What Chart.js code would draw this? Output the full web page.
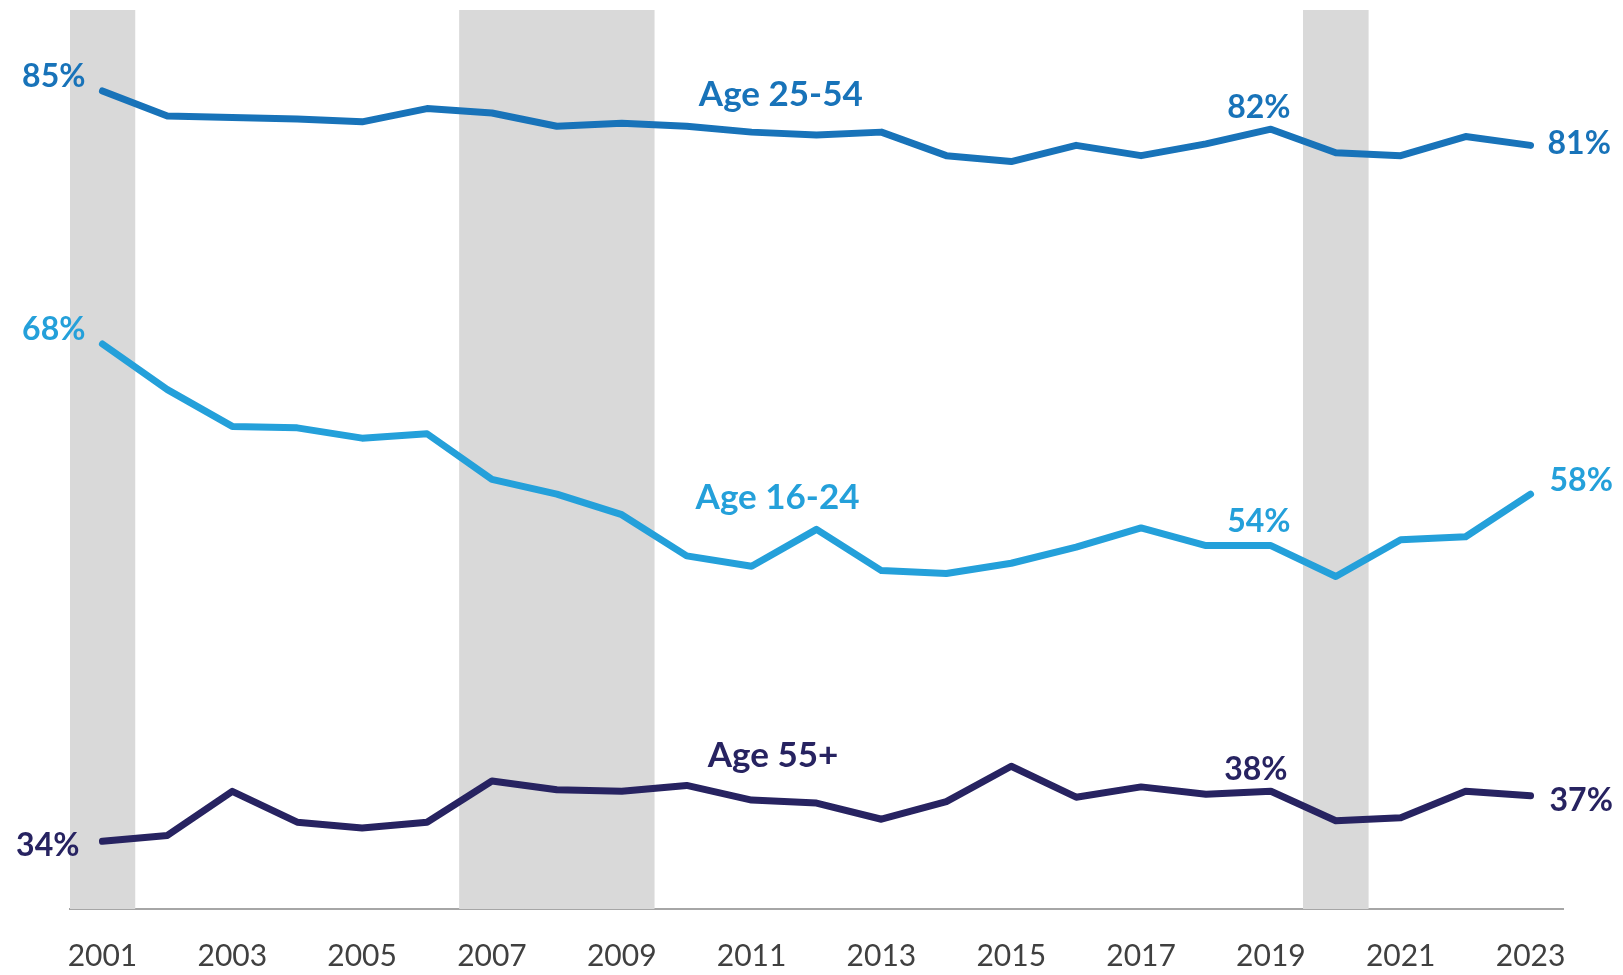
<!DOCTYPE html>
<html>
<head>
<meta charset="utf-8">
<script src="https://cdn.jsdelivr.net/npm/chart.js@4.4.1/dist/chart.umd.min.js"></script>
<style>
  html, body { margin: 0; padding: 0; background: #fff; }
  canvas { display: block; }
</style>
</head>
<body>
<canvas id="lfpr-chart" width="1623" height="975"></canvas>
<script>
const years = ['2001', '2002', '2003', '2004', '2005', '2006', '2007', '2008', '2009', '2010', '2011', '2012',
  '2013', '2014', '2015', '2016', '2017', '2018', '2019', '2020', '2021', '2022', '2023']

const age2554 = [85.0, 83.3, 83.2, 83.1, 82.9, 83.8, 83.5, 82.6, 82.8, 82.6, 82.2, 82.0,
  82.2, 80.6, 80.2, 81.3, 80.6, 81.4, 82.4, 80.8, 80.6, 81.9, 81.3]
const age1624 = [67.8, 64.7, 62.2, 62.1, 61.4, 61.7, 58.6, 57.6, 56.2, 53.4, 52.7, 55.2,
  52.4, 52.2, 52.9, 54.0, 55.3, 54.1, 54.1, 52.0, 54.5, 54.7, 57.6]
const age55 = [34.0, 34.4, 37.4, 35.3, 34.9, 35.3, 38.1, 37.5, 37.4, 37.8, 36.8, 36.6,
  35.5, 36.7, 39.1, 37.0, 37.7, 37.2, 37.4, 35.4, 35.6, 37.4, 37.1]

const recessionYears = ['2001', '2007', '2008', '2009', '2020']

const seriesNames = ['Age 25-54', 'Age 16-24', 'Age 55+']
const seriesColors = ['#1873b9', '#24a0da', '#272361']

// value callouts: which series, which year, what text
const callouts = [
  { series: 0, year: '2001', text: '85%' },
  { series: 0, year: '2019', text: '82%' },
  { series: 0, year: '2023', text: '81%' },
  { series: 1, year: '2001', text: '68%' },
  { series: 1, year: '2019', text: '54%' },
  { series: 1, year: '2023', text: '58%' },
  { series: 2, year: '2001', text: '34%' },
  { series: 2, year: '2019', text: '38%' },
  { series: 2, year: '2023', text: '37%' }
]

// where each callout sits relative to its point
const calloutOffsets = {
  '0-2001': { align: 'right', dx: -17, dy: -14 },
  '1-2001': { align: 'right', dx: -17, dy: -14 },
  '2-2001': { align: 'right', dx: -23, dy: 4 },
  '0-2019': { align: 'center', dx: -12, dy: -21 },
  '1-2019': { align: 'center', dx: -12, dy: -24 },
  '2-2019': { align: 'center', dx: -15, dy: -22 },
  '0-2023': { align: 'left', dx: 17, dy: -2 },
  '1-2023': { align: 'left', dx: 19, dy: -13 },
  '2-2023': { align: 'left', dx: 19, dy: 5 }
}
// series name labels: x position as a (fractional) category index, y offset from line
const nameOffsets = [
  { at: 10.45, dy: -37 },
  { at: 10.40, dy: -68 },
  { at: 10.33, dy: -44 }
]

const labelPlugin = {
  id: 'lineLabels',
  afterDatasetsDraw(chart) {
    const ctx = chart.ctx
    const xScale = chart.scales.x
    const yScale = chart.scales.y
    ctx.save()
    ctx.textBaseline = 'middle'

    ctx.font = 'bold 32px Lato'
    callouts.forEach(c => {
      const idx = years.indexOf(c.year)
      const pt = chart.getDatasetMeta(c.series + 1).data[idx]
      const off = calloutOffsets[c.series + '-' + c.year]
      ctx.fillStyle = seriesColors[c.series]
      ctx.textAlign = off.align
      ctx.fillText(c.text, pt.x + off.dx, pt.y + off.dy)
    })

    ctx.font = 'bold 35px Lato'
    ctx.textAlign = 'center'
    const allSeries = [age2554, age1624, age55]
    seriesNames.forEach((name, i) => {
      const n = nameOffsets[i]
      const x = xScale.getPixelForValue(n.at)
      const y = yScale.getPixelForValue(allSeries[i][Math.round(n.at)]) + n.dy
      ctx.fillStyle = seriesColors[i]
      ctx.fillText(name, x, y)
    })
    ctx.restore()
  }
}

const lineStyle = {
  type: 'line',
  yAxisID: 'y',
  borderWidth: 7,
  pointRadius: 0,
  pointHoverRadius: 0,
  tension: 0,
  borderJoinStyle: 'round',
  borderCapStyle: 'round',
  fill: false,
  order: 1
}

const chartData = {
  labels: years,
  datasets: [{
    type: 'bar',
    label: 'Recession',
    data: years.map(y => recessionYears.includes(y) ? 1 : null),
    backgroundColor: '#d9d9d9',
    borderWidth: 0,
    barPercentage: 1,
    categoryPercentage: 1,
    yAxisID: 'yBand',
    order: 10
  },
  Object.assign({ label: seriesNames[0], data: age2554, borderColor: seriesColors[0] }, lineStyle),
  Object.assign({ label: seriesNames[1], data: age1624, borderColor: seriesColors[1] }, lineStyle),
  Object.assign({ label: seriesNames[2], data: age55, borderColor: seriesColors[2] }, lineStyle)
  ]
}

const chartConfig = {
  data: chartData,
  options: {
    responsive: false,
    animation: false,
    layout: {
      padding: { left: 70, right: 60, top: 10, bottom: -28 }
    },
    plugins: {
      legend: { display: false },
      tooltip: { enabled: false }
    },
    scales: {
      x: {
        type: 'category',
        offset: true,
        grid: { display: false, drawTicks: false },
        border: { display: true, color: '#a6a6a6', width: 2 },
        ticks: {
          autoSkip: false,
          maxRotation: 0,
          padding: 29,
          color: '#404040',
          font: { family: 'Lato', size: 30 },
          callback: function (value, index) {
            return index % 2 === 0 ? years[index] : ''
          }
        }
      },
      y: {
        display: false,
        min: 29.4,
        max: 90.5
      },
      yBand: {
        display: false,
        min: 0,
        max: 1
      }
    }
  },
  plugins: [labelPlugin]
}

const chartEl = document.getElementById('lfpr-chart').getContext('2d')
const lfprChart = new Chart(chartEl, chartConfig)
</script>
</body>
</html>
